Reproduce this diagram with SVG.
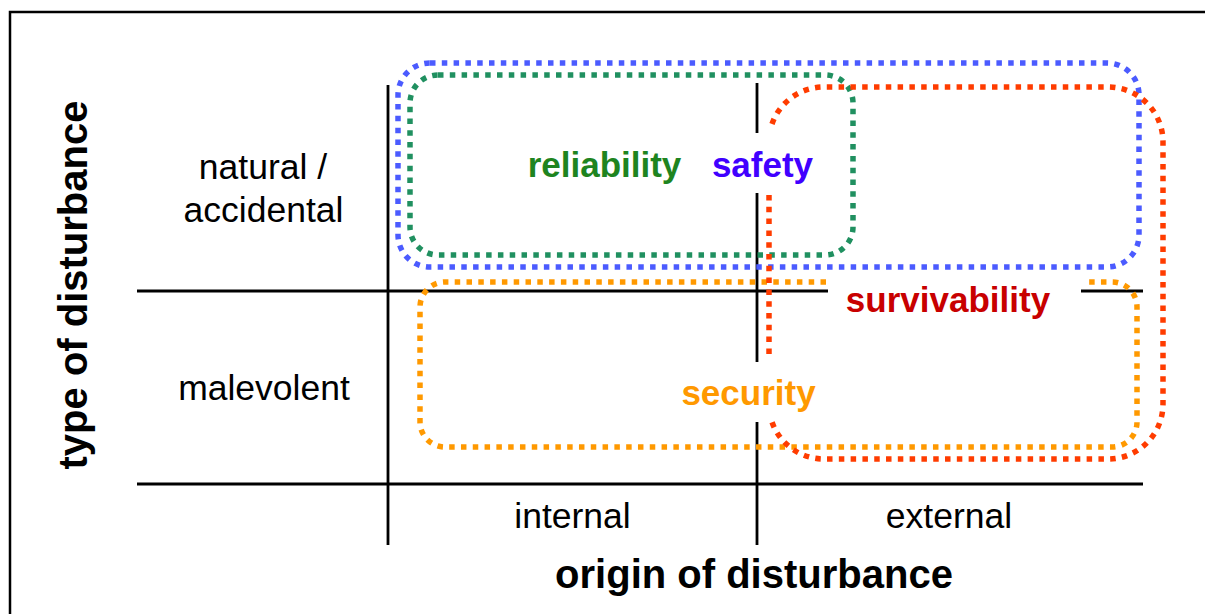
<svg xmlns="http://www.w3.org/2000/svg" width="1205" height="614" viewBox="0 0 1205 614">
<style>
.grid{stroke:#000;stroke-width:2.8;fill:none}
.dot{fill:none;stroke-width:5.5;stroke-dasharray:5.5 6.3}
.lbl{font-family:"Liberation Sans",Arial,sans-serif;font-size:35.5px;text-anchor:middle;fill:#000}
.b{font-weight:bold;font-size:35px}
.axis{font-family:"Liberation Sans",Arial,sans-serif;font-size:40px;font-weight:bold;text-anchor:middle;fill:#000}
</style>
<rect x="0" y="0" width="1205" height="614" fill="#fff"/>
<rect id="frame" x="10" y="12" width="1300" height="700" fill="none" stroke="#000" stroke-width="2.5"/>
<g id="connectors">
<path class="grid" d="M137 291H828M1081 291H1143M137 484H1143M388 85V545M757 83V133M757 193V362M757 422V545"/>
</g>
<g id="blue-safety">
<rect class="dot" x="398" y="63" width="741" height="204" rx="32" stroke="#4B5BFF"/>
<text class="lbl b" x="762.5" y="177" style="fill:#4000FF">safety</text>
</g>
<g id="green-reliability">
<rect class="dot" x="410" y="75" width="443" height="180" rx="28" stroke="#209060"/>
<text class="lbl b" x="604.5" y="177" style="fill:#1E8420">reliability</text>
</g>
<g id="orange-security">
<path class="dot" stroke="#FF9900" d="M826 282H445A25 25 0 0 0 420 307V422A25 25 0 0 0 445 447H1112A25 25 0 0 0 1137 422V307A25 25 0 0 0 1112 282H1085"/>
<text class="lbl b" x="748.5" y="405" style="fill:#FF9900">security</text>
</g>
<g id="red-survivability">
<path class="dot" stroke="#FF3C00" d="M772 124A55 55 0 0 1 824 87H1108A55 55 0 0 1 1163 142V404A55 55 0 0 1 1108 459H824A55 55 0 0 1 772 422"/>
<path class="dot" stroke="#FF3C00" d="M769 195V357"/>
<text class="lbl b" x="948" y="312" style="fill:#C80000">survivability</text>
</g>
<g id="row-natural">
<text class="lbl" x="263" y="179">natural /</text>
<text class="lbl" x="263.5" y="222">accidental</text>
</g>
<g id="row-malevolent">
<text class="lbl" x="264" y="400">malevolent</text>
</g>
<g id="col-internal">
<text class="lbl" x="572.5" y="528">internal</text>
</g>
<g id="col-external">
<text class="lbl" x="949" y="528">external</text>
</g>
<g id="axis-x">
<text class="axis" x="754" y="588">origin of disturbance</text>
</g>
<g id="axis-y">
<text class="axis" transform="translate(87,285) rotate(-90)">type of disturbance</text>
</g>
</svg>
